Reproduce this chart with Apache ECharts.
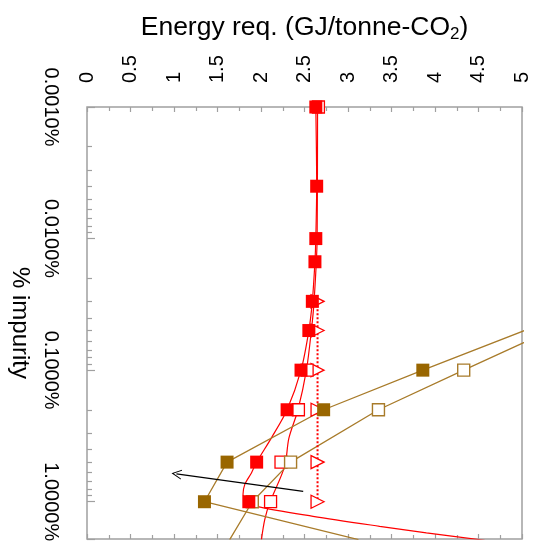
<!DOCTYPE html>
<html><head><meta charset="utf-8">
<script src="https://cdn.jsdelivr.net/npm/echarts@6/dist/echarts.min.js"></script>
<style>html,body{margin:0;padding:0;background:#fff}#c{width:539px;height:551px}</style>
</head><body><div id="c"></div>
<script>
// Energy axis range (GJ/tonne-CO2)
const energyMin = 0, energyMax = 5, energyStep = 0.5;
// Impurity axis range (%)
const impMin = 0.001, impMax = 1.92;

// Marker series: impurity (%) and energy requirement
const impFilledRed = [0.001, 0.004, 0.01, 0.015, 0.03, 0.05, 0.1, 0.2, 0.5, 1.0];
const eFilledRed   = [2.63, 2.64, 2.63, 2.62, 2.59, 2.55, 2.46, 2.30, 1.95, 1.86];
const impOpenRed = [0.001, 0.1, 0.2, 0.5, 1.0];
const eOpenRed   = [2.66, 2.53, 2.43, 2.23, 2.11];
const impTri = [0.03, 0.05, 0.1, 0.2, 0.5, 1.0];
const eTri   = [2.65, 2.65, 2.65, 2.65, 2.65, 2.65];
const impBrownFilled = [0.1, 0.2, 0.5, 1.0];
const eBrownFilled   = [3.86, 2.72, 1.61, 1.35];
const impBrownOpen = [0.1, 0.2, 0.5, 1.0];
const eBrownOpen   = [4.33, 3.35, 2.34, 1.90];

// Fitted curves (red)
const impFitA = [0.001, 0.004, 0.01, 0.015, 0.03, 0.05, 0.1, 0.2, 0.327, 0.5, 0.604, 0.741, 0.883, 1.0, 1.084, 1.291, 1.538, 1.726, 1.964];
const eFitA   = [2.63, 2.64, 2.63, 2.62, 2.59, 2.55, 2.46, 2.30, 2.12, 1.95, 1.89, 1.813, 1.793, 1.86, 1.947, 2.598, 3.364, 3.901, 4.571];
const impFitB = [0.001, 0.01, 0.03, 0.05, 0.1, 0.2, 0.33, 0.538, 1.02, 1.368, 1.94];
const eFitB   = [2.65, 2.645, 2.61, 2.579, 2.522, 2.425, 2.32, 2.272, 2.10, 2.043, 2.005];

// Brown connecting lines
const impLineC = [0.05, 0.1, 0.2, 0.5, 1.0, 1.94];
const eLineC   = [5.03, 3.86, 2.72, 1.61, 1.35, 3.12];
const impLineD = [0.05, 0.1, 0.2, 0.5, 1.0, 1.94];
const eLineD   = [5.32, 4.33, 3.35, 2.34, 1.90, 1.64];

// Arrow (energy, impurity)
const arrowFrom = [2.485, 0.834];
const arrowTo   = [1.028, 0.615];

const zip = (imp, e) => imp.map((v, i) => [e[i], v]);

const RED = '#ff0000';
const BROWN_FILL = '#996600';
const BROWN_LINE = '#a87b2a';
const AX = '#a0a0a0';
const FONT = 'Liberation Sans, Arial, sans-serif';

const chart = echarts.init(document.getElementById('c'), null, {renderer: 'canvas'});

const option = {
  animation: false,
  textStyle: {fontFamily: FONT},
  grid: {left: 87, top: 107, right: 17, bottom: 12, show: true, borderColor: AX, borderWidth: 1.5,
         containLabel: false, outerBoundsMode: 'none'},
  xAxis: [{
    type: 'value', position: 'top', min: energyMin, max: energyMax, interval: energyStep,
    axisLine: {show: false},
    axisTick: {show: true, inside: true, length: 5, lineStyle: {color: AX, width: 1.2}},
    minorTick: {show: true, splitNumber: 2, length: 4, lineStyle: {color: AX, width: 1.2}},
    splitLine: {show: false},
    axisLabel: {rotate: -90, margin: 24, fontSize: 20, color: '#000', fontFamily: FONT,
                formatter: v => String(v)},
    name: '{a|Energy req. (GJ/tonne-CO}{s|2}{a|)}',
    nameLocation: 'middle', nameGap: 64, nameMoveOverlap: false,
    nameTextStyle: {
      rich: {
        a: {fontSize: 26.5, color: '#000', fontFamily: FONT, lineHeight: 30, verticalAlign: 'middle'},
        s: {fontSize: 17, color: '#000', fontFamily: FONT, lineHeight: 14, verticalAlign: 'bottom'}
      }
    }
  }, {
    type: 'value', position: 'bottom', min: energyMin, max: energyMax, interval: energyStep,
    axisLine: {show: false},
    axisTick: {show: true, inside: true, length: 5, lineStyle: {color: AX, width: 1.2}},
    minorTick: {show: true, splitNumber: 2, length: 4, lineStyle: {color: AX, width: 1.2}},
    splitLine: {show: false},
    axisLabel: {show: false}
  }],
  yAxis: [{
    type: 'log', logBase: 10, min: impMin, max: impMax, inverse: true, position: 'left',
    axisLine: {show: false},
    axisTick: {show: true, inside: true, length: 8, lineStyle: {color: AX, width: 1.2}},
    minorTick: {show: true, splitNumber: 9, length: 5, lineStyle: {color: AX, width: 1.2}},
    splitLine: {show: false}, minorSplitLine: {show: false},
    axisLabel: {rotate: -90, margin: 26, fontSize: 20, color: '#000', fontFamily: FONT,
      formatter: v => {
        const l = Math.log10(v);
        return Math.abs(l - Math.round(l)) < 1e-6 ? v.toFixed(4) + '%' : '';
      }},
    name: '% impurity', nameLocation: 'middle', nameRotate: -90, nameGap: 55, nameMoveOverlap: false,
    nameTextStyle: {fontSize: 24, color: '#000', fontFamily: FONT}
  }],
  series: [
    {type: 'line', name: 'fitA', data: zip(impFitA, eFitA), smooth: 0.3, showSymbol: false, symbol: 'none',
     lineStyle: {color: RED, width: 1.2}, z: 2,
     markLine: {silent: true, symbol: ['none', 'path://M5,0 L10,10 L8.8,10 L5,2.2 L1.2,10 L0,10 Z'],
       symbolSize: 10, label: {show: false}, emphasis: {disabled: true},
       lineStyle: {type: 'solid', color: '#000', width: 1.2},
       data: [[{coord: arrowFrom}, {coord: arrowTo}]]}},
    {type: 'line', name: 'fitB', data: zip(impFitB, eFitB), smooth: 0.3, showSymbol: false, symbol: 'none',
     lineStyle: {color: RED, width: 1.2}, z: 2},
    {type: 'line', name: 'lineC', data: zip(impLineC, eLineC), showSymbol: false, symbol: 'none',
     lineStyle: {color: BROWN_LINE, width: 1.3}, z: 2},
    {type: 'line', name: 'lineD', data: zip(impLineD, eLineD), showSymbol: false, symbol: 'none',
     lineStyle: {color: BROWN_LINE, width: 1.3}, z: 2},
    {type: 'line', name: 'tri', data: zip(impTri, eTri), symbol: 'triangle', symbolRotate: -90, symbolSize: 13,
     showSymbol: true,
     itemStyle: {color: '#fff', borderColor: RED, borderWidth: 1.3},
     lineStyle: {color: RED, width: 2, type: [2, 2]}, z: 3},
    {type: 'scatter', name: 'openRed', data: zip(impOpenRed, eOpenRed), symbol: 'rect', symbolSize: 12,
     itemStyle: {color: '#fff', borderColor: RED, borderWidth: 1.3, opacity: 1}, z: 4},
    {type: 'scatter', name: 'openBrown', data: zip(impBrownOpen, eBrownOpen), symbol: 'rect', symbolSize: 12,
     itemStyle: {color: '#fff', borderColor: BROWN_LINE, borderWidth: 1.4, opacity: 1}, z: 4},
    {type: 'scatter', name: 'filledBrown', data: zip(impBrownFilled, eBrownFilled), symbol: 'rect', symbolSize: 13,
     itemStyle: {color: BROWN_FILL, opacity: 1}, z: 5},
    {type: 'scatter', name: 'filledRed', data: zip(impFilledRed, eFilledRed), symbol: 'rect', symbolSize: 13,
     itemStyle: {color: RED, opacity: 1}, z: 6}
  ]
};
chart.setOption(option);
</script>
</body></html>
